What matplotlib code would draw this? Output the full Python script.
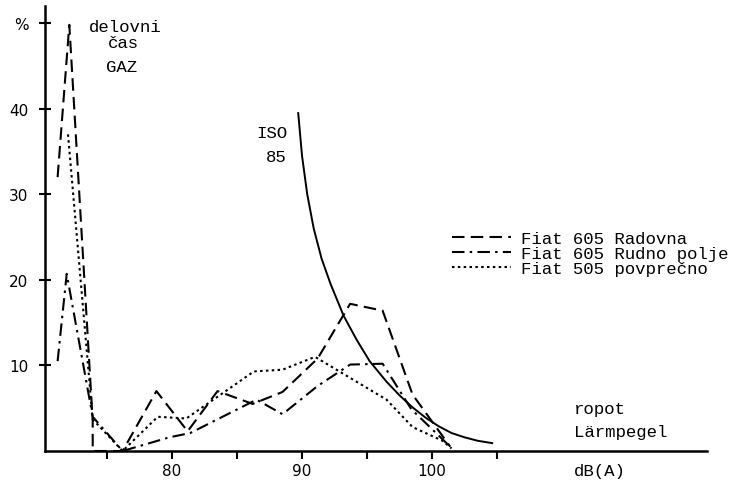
import numpy as np
import matplotlib.pyplot as plt

# noise level classes, dB(A), and share of working time, %
radovna_x = [71.2, 72.1, 73.9, 73.9, 76.2, 78.8, 81.2, 83.5, 86.2, 88.5, 91.2, 93.7, 96.2, 98.5, 101.4]
radovna_y = [32.0, 49.8, 3.5, 0.0, 0.0, 7.0, 2.3, 7.0, 5.5, 6.9, 10.8, 17.2, 16.4, 6.6, 0.5]

rudno_x = [71.2, 71.9, 73.9, 76.2, 79.8, 81.4, 86.5, 88.5, 91.2, 93.7, 96.2, 98.4, 101.4]
rudno_y = [10.5, 20.7, 4.0, 0.0, 1.6, 2.1, 6.0, 4.3, 7.6, 10.1, 10.2, 4.9, 0.5]

povp_x = [72.0, 73.9, 76.2, 78.9, 81.1, 86.3, 88.5, 91.0, 96.5, 98.5, 100.8, 101.5]
povp_y = [37.0, 3.7, 0.0, 4.0, 3.8, 9.3, 9.5, 11.0, 6.0, 2.8, 1.2, 0.3]

# ISO 85 limit curve
iso_x = [89.7, 90.0, 90.4, 90.9, 91.5, 92.2, 93.2, 94.2, 95.2, 96.5, 97.5, 98.5,
         99.5, 100.5, 101.5, 102.5, 103.5, 104.7]
iso_y = [39.6, 34.5, 30.0, 26.0, 22.5, 19.5, 15.8, 13.0, 10.5, 8.1, 6.5, 5.1,
         3.9, 2.9, 2.1, 1.6, 1.2, 0.9]

labels = ['Fiat 605 Radovna', 'Fiat 605 Rudno polje', 'Fiat 505 povprečno']
xticks = [75, 80, 85, 90, 95, 100, 105]
xticklabels = ['', '80', '', '90', '', '100', '']
yticks = [10, 20, 30, 40, 50]
yticklabels = ['10', '20', '30', '40', '%']

mono = 'Liberation Mono'

fig = plt.figure(figsize=(7.41, 4.81), dpi=100)
ax = fig.add_axes([45 / 741, 29 / 481, 662 / 741, 445 / 481])

lw = 1.5
ax.plot(radovna_x, radovna_y, color='black', lw=lw, dashes=(6, 3), label=labels[0])
ax.plot(rudno_x, rudno_y, color='black', lw=lw, dashes=(6, 2.5, 1.2, 2.5), label=labels[1])
ax.plot(povp_x, povp_y, color='black', lw=lw, dashes=(1.2, 1.6), label=labels[2])
ax.plot(iso_x, iso_y, color='black', lw=1.4, solid_capstyle='butt', solid_joinstyle='round')

ax.set_xlim(70.23, 121.15)
ax.set_ylim(0, 52)

for s in ['top', 'right']:
    ax.spines[s].set_visible(False)
for s in ['left', 'bottom']:
    ax.spines[s].set_linewidth(1.8)

ax.set_xticks(xticks)
ax.set_xticklabels(xticklabels)
ax.set_yticks(yticks)
ax.set_yticklabels(yticklabels)
ax.tick_params(axis='x', direction='out', length=6, width=1.5, pad=3, labelsize=11)
ax.tick_params(axis='y', direction='inout', length=8, width=1.5, pad=8, labelsize=11)

# typed annotations
tkw = dict(family=mono, fontsize=12.5, color='black')
ax.text(76.38, 49.1, 'delovni', ha='center', va='baseline', **tkw)
ax.text(76.3, 47.25, 'čas', ha='center', va='baseline', **tkw)
ax.text(76.15, 44.4, 'GAZ', ha='center', va='baseline', **tkw)
ax.text(88.85, 36.7, 'ISO', ha='right', va='baseline', **tkw)
ax.text(88.85, 33.9, '85', ha='right', va='baseline', **tkw)
ax.text(110.9, 4.44, 'ropot', ha='left', va='baseline', **tkw)
ax.text(110.9, 1.75, 'Lärmpegel', ha='left', va='baseline', **tkw)
ax.text(110.9, -2.8, 'dB(A)', ha='left', va='baseline', clip_on=False, **tkw)

leg = ax.legend(loc='upper left', bbox_to_anchor=(443 / 741, 1 - 223 / 481),
                bbox_transform=fig.transFigure, frameon=False, borderpad=0,
                handlelength=3.4, handletextpad=0.6, labelspacing=0.0,
                prop=dict(family=mono, size=12.5))

fig.savefig('out.png', dpi=100)
